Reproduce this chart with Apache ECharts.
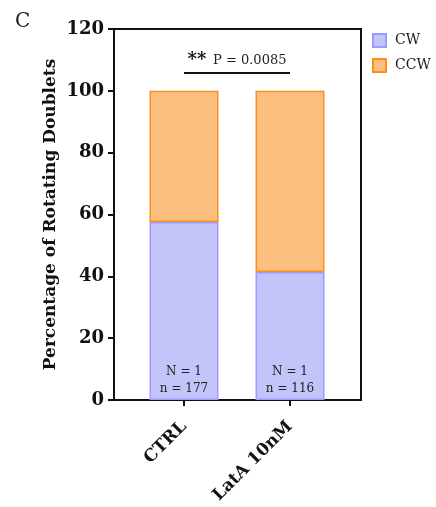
<!DOCTYPE html>
<html>
<head>
<meta charset="utf-8">
<script src="https://cdn.jsdelivr.net/npm/echarts@6/dist/echarts.min.js"></script>
<style>
  html, body { margin: 0; padding: 0; background: #fff; }
  #chart { width: 436px; height: 507px; }
</style>
</head>
<body>
<div id="chart"></div>
<script>
// Rotation direction of doublets per condition (% of rotating doublets)
const conditions = ['CTRL', 'LatA 10nM'];
const cwPercent = [57.6, 41.4];
const ccwPercent = [42.4, 58.6];
const experiments = [1, 1];
const doublets = [177, 116];
const yTicks = [0, 20, 40, 60, 80, 100, 120];
const pValue = '0.0085';
const stars = '**';

const FONT = 'DejaVu Serif';
const chart = echarts.init(document.getElementById('chart'));

const option = {
  animation: false,
  title: {
    text: 'C', left: 10, top: 7,
    textStyle: { fontFamily: FONT, fontSize: 20, fontWeight: 'normal', color: '#222' }
  },
  legend: {
    orient: 'vertical', left: 367, top: 28,
    itemWidth: 13, itemHeight: 13, itemGap: 10,
    icon: 'rect',
    textStyle: { fontFamily: FONT, fontSize: 14, color: '#222', padding: [0, 0, 0, 4] },
    data: ['CW', 'CCW']
  },
  grid: [
    // bar area
    { left: 131, right: 93, top: 29, bottom: 107 },
    // outer frame
    { left: 114, right: 75, top: 29, bottom: 107, show: true,
      borderColor: '#111', borderWidth: 2, backgroundColor: 'transparent' }
  ],
  xAxis: [
    {
      gridIndex: 0, type: 'category', data: conditions,
      axisLine: { show: false },
      axisTick: { show: true, alignWithLabel: true, length: 6, lineStyle: { color: '#111', width: 2 } },
      axisLabel: { rotate: 45, margin: 24, fontFamily: FONT, fontSize: 17, fontWeight: 'bold', color: '#111' }
    },
    { gridIndex: 1, type: 'value', show: false }
  ],
  yAxis: [
    {
      gridIndex: 0, type: 'value', min: yTicks[0], max: yTicks[yTicks.length - 1], interval: 20,
      offset: 17,
      name: 'Percentage of Rotating Doublets', nameLocation: 'middle', nameGap: 55,
      nameTextStyle: { fontFamily: FONT, fontSize: 17, fontWeight: 'bold', color: '#111' },
      axisLine: { show: true, lineStyle: { color: '#111', width: 2 } },
      axisTick: { show: true, length: 6, lineStyle: { color: '#111', width: 2 } },
      axisLabel: { margin: 10, fontFamily: FONT, fontSize: 18, fontWeight: 'bold', color: '#111' },
      splitLine: { show: false }
    },
    { gridIndex: 1, type: 'value', show: false }
  ],
  series: [
    {
      name: 'CW', type: 'bar', stack: 'dir', barWidth: 69, z: 3,
      data: cwPercent,
      itemStyle: { color: '#c4c4fa', borderColor: '#9c9cff', borderWidth: 1.5 },
      label: {
        show: true, position: 'insideBottom', distance: 3,
        fontFamily: FONT, fontSize: 12, color: '#222', lineHeight: 17,
        formatter: p => 'N = ' + experiments[p.dataIndex] + '\nn = ' + doublets[p.dataIndex]
      }
    },
    {
      name: 'CCW', type: 'bar', stack: 'dir', barWidth: 69, z: 2,
      data: ccwPercent,
      itemStyle: { color: '#fdbf80', borderColor: '#ff8d1c', borderWidth: 1.5 },
      markLine: {
        silent: true, symbol: 'none',
        lineStyle: { color: '#111', width: 2, type: 'solid' },
        label: {
          show: true, position: 'middle', distance: 3,
          formatter: '{s|' + stars + '}  {p|P = ' + pValue + '}',
          rich: {
            s: { fontFamily: FONT, fontSize: 18, fontWeight: 'bold', color: '#111' },
            p: { fontFamily: FONT, fontSize: 13, color: '#222' }
          }
        },
        data: [[{ coord: [conditions[0], 106] }, { coord: [conditions[1], 106] }]]
      }
    }
  ]
};
chart.setOption(option);
</script>
</body>
</html>
